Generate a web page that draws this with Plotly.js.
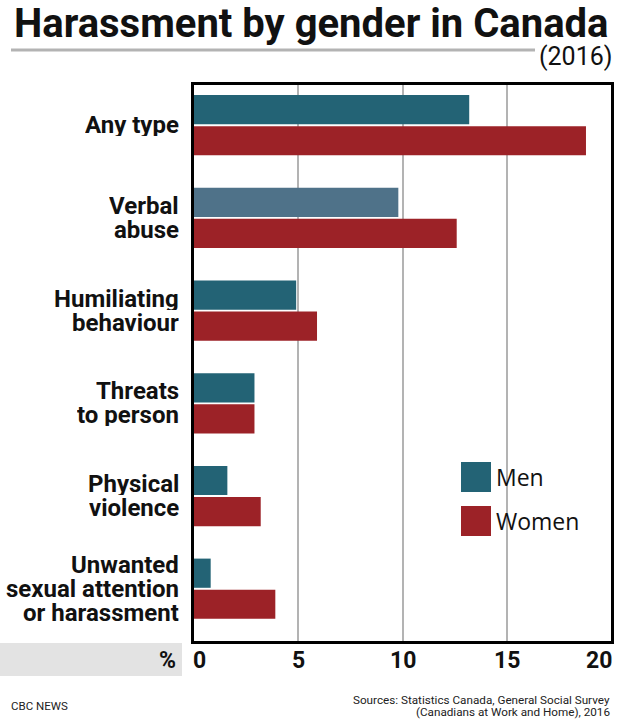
<!DOCTYPE html>
<html>
<head>
<meta charset="utf-8">
<script src="https://cdn.plot.ly/plotly-3.0.1.min.js"></script>
<style>
  body { margin: 0; background: #fff; }
  #chart { width: 620px; height: 721px; }
</style>
</head>
<body>
<div id="chart"></div>
<script>
// values (% of workers, 2016)
var categories = ['Any type', 'Verbal<br>abuse', 'Humiliating<br>behaviour', 'Threats<br>to person', 'Physical<br>violence', 'Unwanted<br>sexual attention<br>or harassment'];
var men = [13.2, 9.8, 4.9, 2.9, 1.6, 0.8];
var women = [18.8, 12.6, 5.9, 2.9, 3.2, 3.9];
var xTicks = [0, 5, 10, 15, 20];
var seriesNames = ['Men', 'Women'];

var TEAL = '#236375';
var TEAL_LIGHT = '#4f7289';
var RED = '#9c2227';

// page geometry
var W = 620, H = 721;
var M = { l: 194, r: 9, t: 85, b: 80 };
var pw = W - M.l - M.r, ph = H - M.t - M.b;
function px(x) { return (x - M.l) / pw; }
function py(y) { return (H - M.b - y) / ph; }

var menColors = categories.map(function (c, i) { return i === 1 ? TEAL_LIGHT : TEAL; });

var data = [
  { type: 'bar', orientation: 'h', name: seriesNames[0], y: categories, x: men,
    marker: { color: menColors }, hoverinfo: 'x' },
  { type: 'bar', orientation: 'h', name: seriesNames[1], y: categories, x: women,
    marker: { color: RED }, hoverinfo: 'x' }
];

var annotations = [];
var shapes = [];

// title block
annotations.push({ xref: 'paper', yref: 'paper', x: px(12), y: py(23), xanchor: 'left', yanchor: 'middle',
  text: '<b>Harassment by gender in Canada</b>', showarrow: false,
  font: { family: 'Roboto', size: 40, color: '#111' } });
annotations.push({ xref: 'paper', yref: 'paper', x: px(614), y: py(56), xanchor: 'right', yanchor: 'middle',
  text: '(2016)', showarrow: false, font: { family: 'Roboto', size: 25, color: '#111' } });
shapes.push({ type: 'line', xref: 'paper', yref: 'paper', x0: px(11), x1: px(535), y0: py(50), y1: py(50),
  line: { color: '#b3b3b3', width: 3 } });

// category labels, one annotation per line to keep the tight leading
categories.forEach(function (c, i) {
  var lines = c.split('<br>');
  lines.forEach(function (ln, j) {
    annotations.push({ xref: 'paper', yref: 'y', x: px(181), y: i, xanchor: 'right', yanchor: 'middle',
      yshift: ((lines.length - 1) / 2 - j) * 24, height: 22, valign: 'middle',
      text: '<b>' + ln + '</b>', showarrow: false,
      font: { family: 'Roboto', size: 24, color: '#111' } });
  });
});

// grey band with % and x tick labels
shapes.push({ type: 'rect', xref: 'paper', yref: 'paper', x0: px(0), x1: px(182), y0: py(643), y1: py(676),
  fillcolor: '#e3e3e3', line: { width: 0 }, layer: 'below' });
annotations.push({ xref: 'paper', yref: 'paper', x: px(178), y: py(660), xanchor: 'right', yanchor: 'middle',
  text: '<b>%</b>', showarrow: false, font: { family: 'Roboto', size: 23, color: '#111' } });
xTicks.forEach(function (t, i) {
  var anchor = i === 0 ? 'left' : (i === xTicks.length - 1 ? 'right' : 'center');
  annotations.push({ xref: 'x', yref: 'paper', x: t, y: py(660), xanchor: anchor, yanchor: 'middle',
    xshift: i === 0 ? -3 : (i === xTicks.length - 1 ? 3 : 0),
    text: '<b>' + t + '</b>', showarrow: false, font: { family: 'Roboto', size: 23, color: '#111' } });
});

// legend drawn by hand (big square keys)
shapes.push({ type: 'rect', xref: 'paper', yref: 'paper', x0: px(452), x1: px(600), y0: py(448), y1: py(546),
  fillcolor: '#fff', line: { width: 0 }, layer: 'between' });
[TEAL, RED].forEach(function (col, i) {
  var top = 462 + i * 44;
  shapes.push({ type: 'rect', xref: 'paper', yref: 'paper', x0: px(461), x1: px(491), y0: py(top), y1: py(top + 30),
    fillcolor: col, line: { width: 0 } });
  annotations.push({ xref: 'paper', yref: 'paper', x: px(494), y: py(top + 15), xanchor: 'left', yanchor: 'middle',
    text: seriesNames[i], showarrow: false, font: { family: 'Open Sans', size: 23, color: '#111' } });
});

// footer
annotations.push({ xref: 'paper', yref: 'paper', x: px(9), y: py(706), xanchor: 'left', yanchor: 'middle',
  text: 'CBC NEWS', showarrow: false, font: { family: 'Roboto', size: 11.5, color: '#222' } });
annotations.push({ xref: 'paper', yref: 'paper', x: px(612), y: py(700), xanchor: 'right', yanchor: 'middle',
  text: 'Sources: Statistics Canada, General Social Survey', showarrow: false,
  font: { family: 'Roboto', size: 11.7, color: '#222' } });
annotations.push({ xref: 'paper', yref: 'paper', x: px(612), y: py(712), xanchor: 'right', yanchor: 'middle',
  text: '(Canadians at Work and Home), 2016', showarrow: false,
  font: { family: 'Roboto', size: 11.7, color: '#222' } });

var layout = {
  width: W, height: H,
  margin: M,
  paper_bgcolor: '#fff', plot_bgcolor: '#fff',
  showlegend: false,
  barmode: 'group', bargap: 0.33, bargroupgap: 0.06,
  xaxis: { range: [0, 20], tickvals: xTicks, showticklabels: false, ticks: '',
    showgrid: true, gridcolor: '#b3b3b3', gridwidth: 2, zeroline: false,
    showline: true, linecolor: '#000', linewidth: 3, mirror: true, fixedrange: true },
  yaxis: { type: 'category', range: [5.564, -0.434], showticklabels: false, ticks: '',
    showgrid: false, zeroline: false,
    showline: true, linecolor: '#000', linewidth: 3, mirror: true, fixedrange: true },
  shapes: shapes,
  annotations: annotations,
  font: { family: 'Roboto', color: '#111' }
};

Plotly.newPlot('chart', data, layout, { displayModeBar: false, staticPlot: true });
</script>
</body>
</html>
